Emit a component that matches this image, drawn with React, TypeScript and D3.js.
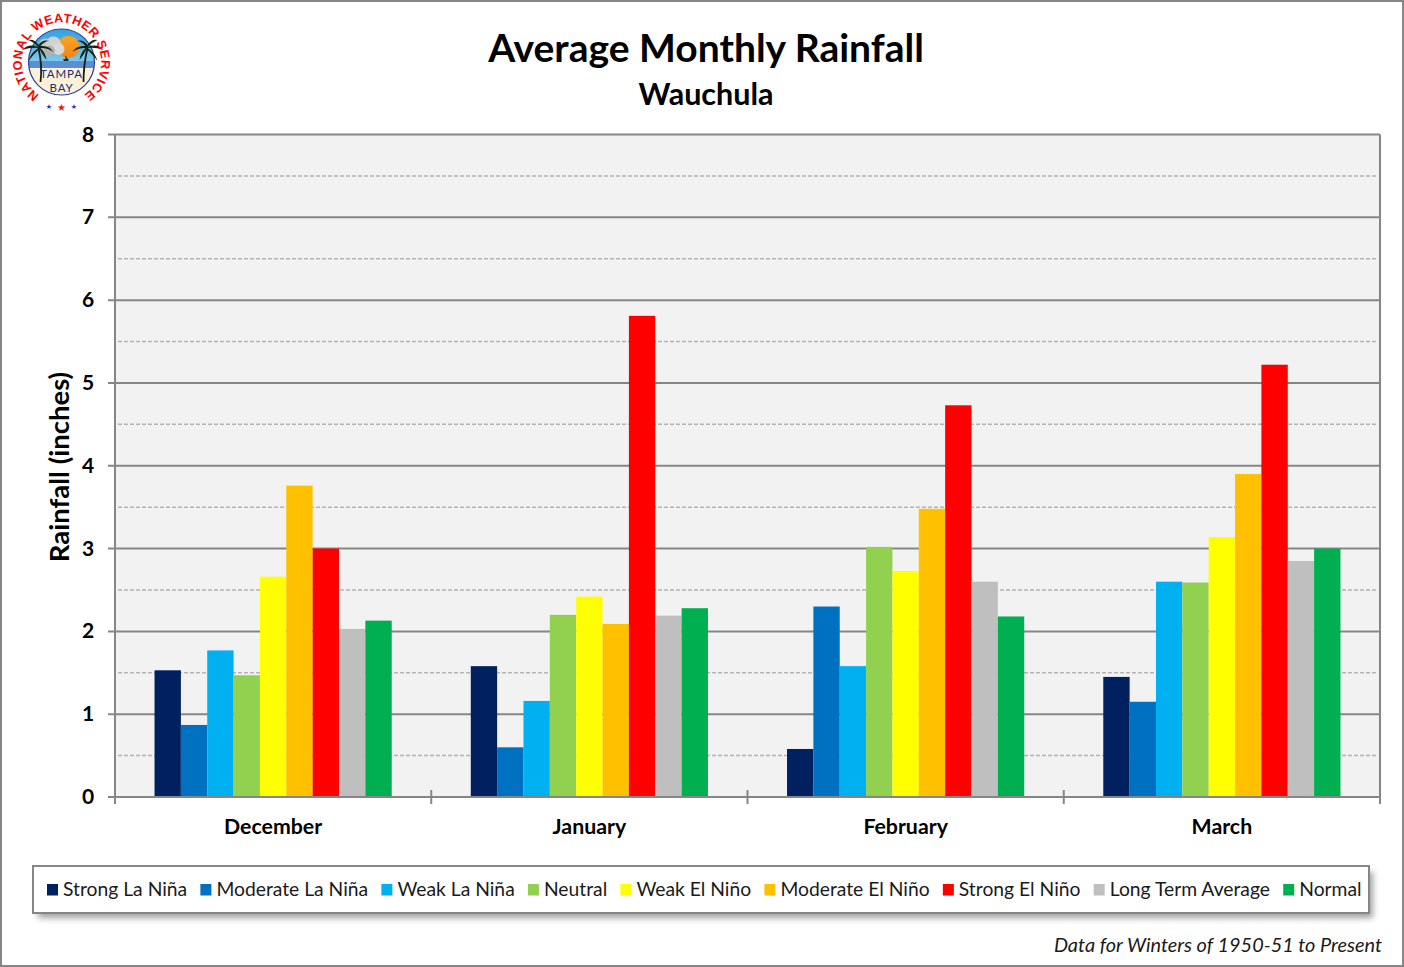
import React, { useEffect, useRef } from 'react';
import * as d3 from 'd3';

const months = ['December', 'January', 'February', 'March'];
const seriesNames = [
  'Strong La Niña',
  'Moderate La Niña',
  'Weak La Niña',
  'Neutral',
  'Weak El Niño',
  'Moderate El Niño',
  'Strong El Niño',
  'Long Term Average',
  'Normal',
];
const seriesColors = ['#002060', '#0070c0', '#00b0f0', '#92d050', '#ffff00', '#ffc000', '#ff0000', '#bfbfbf', '#00b050'];

const strongLaNina = [1.53, 1.58, 0.58, 1.45];
const moderateLaNina = [0.87, 0.6, 2.3, 1.15];
const weakLaNina = [1.77, 1.16, 1.58, 2.6];
const neutral = [1.47, 2.2, 3.02, 2.59];
const weakElNino = [2.66, 2.42, 2.73, 3.14];
const moderateElNino = [3.76, 2.09, 3.48, 3.9];
const strongElNino = [3.0, 5.81, 4.73, 5.22];
const longTermAverage = [2.03, 2.19, 2.6, 2.85];
const normal = [2.13, 2.28, 2.18, 3.0];
const seriesValues = [
  strongLaNina,
  moderateLaNina,
  weakLaNina,
  neutral,
  weakElNino,
  moderateElNino,
  strongElNino,
  longTermAverage,
  normal,
];

const majorTicks = [0, 1, 2, 3, 4, 5, 6, 7, 8];
const minorTicks = [0.5, 1.5, 2.5, 3.5, 4.5, 5.5, 6.5, 7.5];

const font = 'Lato, sans-serif';
const axisGray = '#868686';

const palmCrown =
  'M 0 0 Q -10 -4 -16 3 Q -8 0 0 1 Q -8 6 -10 14 Q -4 6 1 2 Q 4 8 8 13 Q 7 6 2 1 Q 10 1 15 5 Q 11 -2 2 -1 Q 6 -6 11 -6 Q 4 -8 0 -2 Q -4 -8 -10 -7 Q -5 -5 0 0 Z';

const Logo = () => {
  return (
    <g transform="translate(61.5,62)">
      <defs>
        <clipPath id="logoClip">
          <circle r="33" />
        </clipPath>
        <linearGradient id="logoSky" x1="0" y1="0" x2="0" y2="1">
          <stop offset="0%" stopColor="#2f9fe0" />
          <stop offset="100%" stopColor="#7cc8ee" />
        </linearGradient>
        <linearGradient id="logoSun" x1="0" y1="0" x2="0" y2="1">
          <stop offset="0%" stopColor="#f8a51f" />
          <stop offset="100%" stopColor="#f2851a" />
        </linearGradient>
        <path id="logoArc" d="M -23.5 32 A 39.7 39.7 0 1 1 23.5 32" fill="none" />
      </defs>
      <g clipPath="url(#logoClip)">
        <rect x="-34" y="-34" width="68" height="33" fill="url(#logoSky)" />
        <rect x="-34" y="-1" width="68" height="7" fill="#5b90d0" />
        <rect x="-34" y="6" width="68" height="28" fill="#fdf1d8" />
        <circle cx="7" cy="-15" r="11" fill="url(#logoSun)" />
        <circle cx="-16" cy="-17" r="6.5" fill="#c4c4c4" />
        <circle cx="-8" cy="-18" r="7.5" fill="#d2d2d2" />
        <circle cx="-3" cy="-13" r="6" fill="#d9d9d9" />
        <circle cx="-12" cy="-11" r="5.5" fill="#b2b2b2" />
        <path d="M 1.5 -3 h 6 l -1 2 h -4 Z M 4 -3 v -4 l 2 4 Z" fill="#1d2a30" />
      </g>
      <circle r="33" fill="none" stroke="#2a3f9d" strokeWidth="1.2" />
      <path d="M -23 -14 Q -19 3 -21 20" fill="none" stroke="#1a1a12" strokeWidth="1.8" />
      <path d="M 26 -14 Q 22 3 22 20" fill="none" stroke="#1a1a12" strokeWidth="1.8" />
      <path transform="translate(-23,-15)" d={palmCrown} fill="#10240f" />
      <path transform="translate(26,-15) scale(-1,1)" d={palmCrown} fill="#10240f" />
      <text y="16" textAnchor="middle" fontFamily={font} fontSize="11.5" letterSpacing="0.9" fill="#1c2a78">TAMPA</text>
      <text y="30" textAnchor="middle" fontFamily={font} fontSize="11.5" letterSpacing="0.9" fill="#1c2a78">BAY</text>
      <text
        fontFamily="'Liberation Sans Narrow', 'Liberation Sans', sans-serif"
        fontWeight="bold"
        fontSize="12.6"
        fill="#ff0000"
        letterSpacing="0.55"
      >
        <textPath href="#logoArc" startOffset="50%" textAnchor="middle">NATIONAL WEATHER SERVICE</textPath>
      </text>
      <text x="-12.5" y="47" textAnchor="middle" fontSize="7" fill="#2a2fb8" fontFamily="'DejaVu Sans'">★</text>
      <text x="0" y="49" textAnchor="middle" fontSize="10" fill="#e8141c" fontFamily="'DejaVu Sans'">★</text>
      <text x="12.5" y="47" textAnchor="middle" fontSize="7" fill="#2a2fb8" fontFamily="'DejaVu Sans'">★</text>
    </g>
  );
};

const App = () => {
  const legendRef = useRef<SVGGElement | null>(null);

  const width = 1404;
  const height = 967;
  const margin = { top: 134.5, right: 24, bottom: 170, left: 115 };
  const plotRight = width - margin.right;
  const plotBottom = height - margin.bottom;

  const x = d3.scaleBand<string>().domain(months).range([margin.left, plotRight]);
  const inner = d3
    .scaleBand<number>()
    .domain(d3.range(seriesNames.length))
    .range([0, x.bandwidth()])
    .paddingOuter(1.5)
    .paddingInner(0);
  const y = d3.scaleLinear().domain([0, 8]).range([plotBottom, margin.top]);

  // Legend entries flow one after the other, so their widths are measured
  useEffect(() => {
    if (!legendRef.current) return;
    const legend = d3.select(legendRef.current);
    legend.selectAll('*').remove();
    let cursor = 47;
    seriesNames.forEach((name, i) => {
      const item = legend.append('g');
      item
        .append('rect')
        .attr('x', cursor)
        .attr('y', 884)
        .attr('width', 11)
        .attr('height', 11.5)
        .attr('fill', seriesColors[i]);
      const label = item
        .append('text')
        .attr('x', cursor + 16)
        .attr('y', 896)
        .attr('font-family', font)
        .attr('font-size', 19.3)
        .attr('fill', '#1a1a1a')
        .text(name);
      const w = (label.node() as SVGTextElement).getComputedTextLength();
      cursor += 16 + w + 13.2;
    });
  }, []);

  return (
    <svg
      width={width}
      height={height}
      style={{ position: 'absolute', left: 0, top: 0, display: 'block' }}
    >
      <defs>
        <filter id="legendShadow" x="-2%" y="-20%" width="104%" height="150%">
          <feGaussianBlur stdDeviation="3" />
        </filter>
      </defs>
      <rect x={1} y={1} width={width - 2} height={height - 2} fill="#fff" stroke={axisGray} strokeWidth={2} />

      <Logo />

      <text x={706} y={62} textAnchor="middle" fontFamily={font} fontWeight="bold" fontSize={39} fill="#000">
        Average Monthly Rainfall
      </text>
      <text x={706} y={105} textAnchor="middle" fontFamily={font} fontWeight="bold" fontSize={30.5} fill="#000">
        Wauchula
      </text>

      {/* plot area */}
      <rect
        x={margin.left}
        y={margin.top}
        width={plotRight - margin.left}
        height={plotBottom - margin.top}
        fill="#f2f2f2"
      />
      {minorTicks.map(t => (
        <line
          key={t}
          x1={margin.left + 3}
          x2={plotRight - 3}
          y1={y(t)}
          y2={y(t)}
          stroke="#b4b4b4"
          strokeWidth={1.5}
          strokeDasharray="4 2"
        />
      ))}
      {majorTicks.map(t => (
        <line key={t} x1={margin.left - 7} x2={plotRight} y1={y(t)} y2={y(t)} stroke={axisGray} strokeWidth={2} />
      ))}
      <line x1={margin.left} x2={margin.left} y1={margin.top} y2={plotBottom + 7} stroke={axisGray} strokeWidth={2} />
      <line x1={plotRight} x2={plotRight} y1={margin.top} y2={plotBottom + 7} stroke={axisGray} strokeWidth={2} />

      {/* bars */}
      {months.map((month, m) => (
        <g key={month} transform={`translate(${x(month)},0)`}>
          {seriesValues.map((values, s) => (
            <rect
              key={seriesNames[s]}
              x={inner(s)}
              y={y(values[m])}
              width={inner.bandwidth()}
              height={y(0) - y(values[m]) - 1}
              fill={seriesColors[s]}
            />
          ))}
        </g>
      ))}

      {/* axes text */}
      {majorTicks.map(t => (
        <text
          key={t}
          x={88}
          y={y(t) + 7}
          textAnchor="middle"
          fontFamily={font}
          fontWeight="bold"
          fontSize={21}
          fill="#000"
        >
          {t}
        </text>
      ))}
      {months.map((month, m) => (
        <g key={month}>
          {m > 0 && (
            <line
              x1={x(month)}
              x2={x(month)}
              y1={plotBottom - 7}
              y2={plotBottom + 7}
              stroke={axisGray}
              strokeWidth={2}
            />
          )}
          <text
            x={x(month)! + x.bandwidth() / 2}
            y={834}
            textAnchor="middle"
            fontFamily={font}
            fontWeight="bold"
            fontSize={21.3}
            fill="#000"
          >
            {month}
          </text>
        </g>
      ))}
      <text
        transform="translate(69,467) rotate(-90)"
        textAnchor="middle"
        fontFamily={font}
        fontWeight="bold"
        fontSize={27.5}
        fill="#000"
      >
        Rainfall (inches)
      </text>

      {/* legend */}
      <rect x={38} y={872} width={1335} height={46} fill="#555" opacity={0.55} filter="url(#legendShadow)" />
      <rect x={33} y={866} width={1336} height={47} fill="#fff" stroke={axisGray} strokeWidth={2} />
      <g ref={legendRef} />

      <text
        x={1382}
        y={952}
        textAnchor="end"
        fontFamily={font}
        fontStyle="italic"
        fontSize={19.9}
        fill="#1a1a1a"
      >
        Data for Winters of 1950-51 to Present
      </text>
    </svg>
  );
};

export default App;
